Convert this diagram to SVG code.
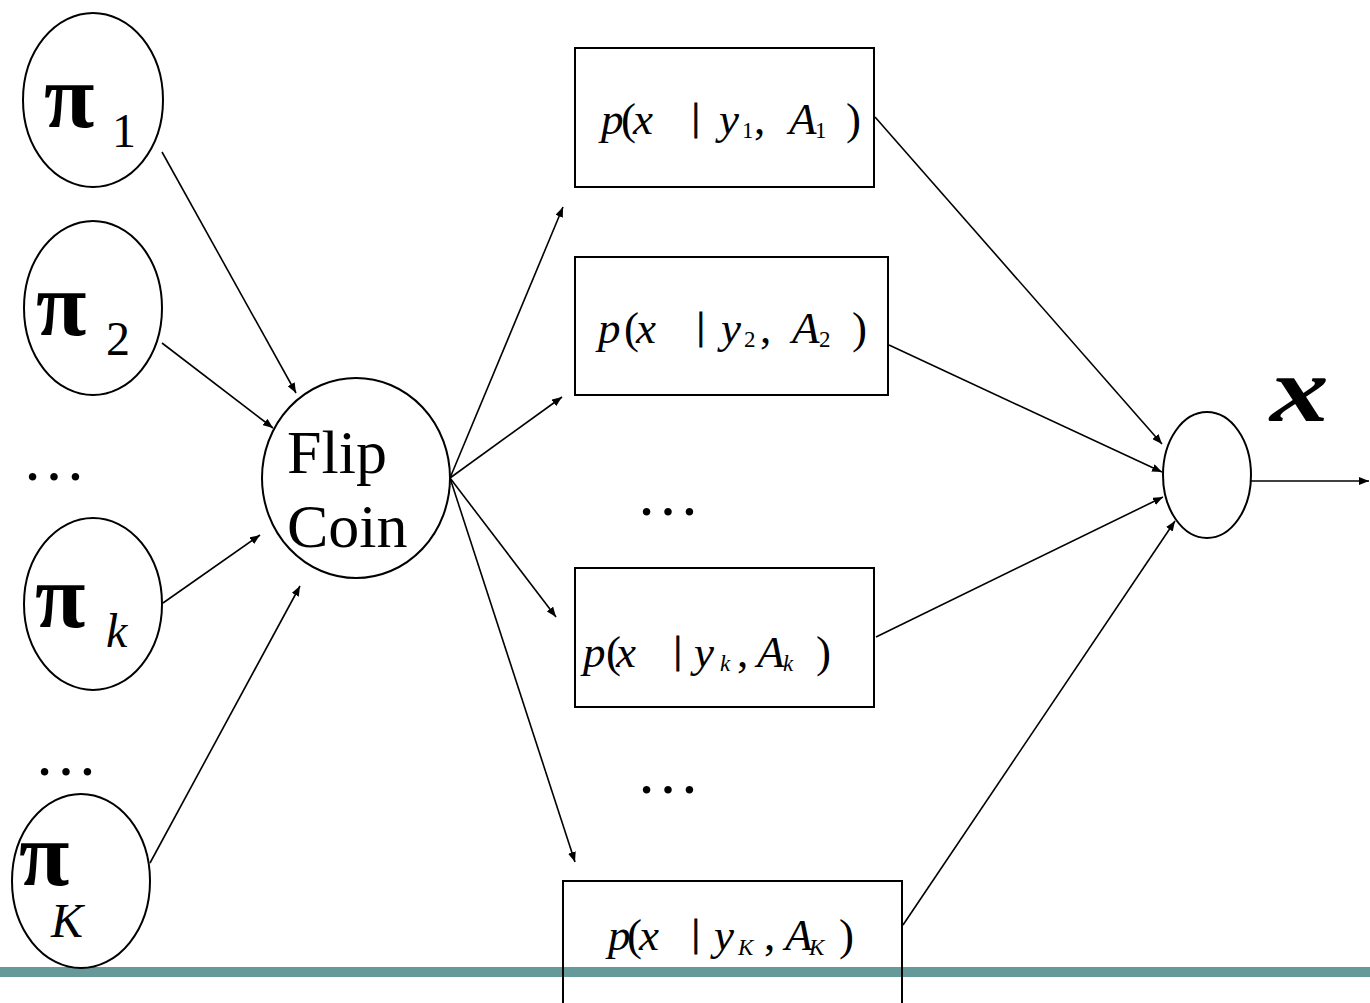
<svg xmlns="http://www.w3.org/2000/svg" width="1370" height="1003" viewBox="0 0 1370 1003">
<defs>
<marker id="ah" viewBox="0 0 10 8" refX="10" refY="4" markerWidth="10" markerHeight="8" markerUnits="userSpaceOnUse" orient="auto">
<path d="M0,0 L10,4 L0,8 z" fill="#000"/>
</marker>
<style>
.n{fill:#fff;stroke:#000;stroke-width:2}
.b{fill:none;stroke:#000;stroke-width:2}
.c{stroke:#000;stroke-width:1.6;fill:none;marker-end:url(#ah)}
text{font-family:"Liberation Serif","Times New Roman","DejaVu Serif",serif}
.pi{font-weight:bold;font-size:92px}
.sub{font-size:48px}
.it{font-style:italic}
.eq{font-style:italic;font-size:45px}
.s{font-size:23px}
.up{font-style:normal}
.bar{font-style:normal;font-size:38px;stroke:#000;stroke-width:1}
.t{font-size:62px}
.dots{font-size:64px}
</style>
</defs>
<rect width="1370" height="1003" fill="#fff"/>
<rect x="0" y="967" width="1370" height="10" fill="#669999"/>
<g id="connectors">
<line class="c" x1="162" y1="152" x2="296" y2="393"/>
<line class="c" x1="162" y1="343" x2="273" y2="428"/>
<line class="c" x1="163" y1="603" x2="260" y2="535"/>
<line class="c" x1="150" y1="863" x2="300" y2="586"/>
<line class="c" x1="450" y1="478" x2="563" y2="207"/>
<line class="c" x1="450" y1="478" x2="562" y2="397"/>
<line class="c" x1="450" y1="478" x2="556" y2="617"/>
<line class="c" x1="450" y1="478" x2="575" y2="862"/>
<line class="c" x1="875" y1="117" x2="1162" y2="444"/>
<line class="c" x1="889" y1="345" x2="1162" y2="472"/>
<line class="c" x1="876" y1="637" x2="1163" y2="497"/>
<line class="c" x1="903" y1="925" x2="1175" y2="521"/>
<line class="c" x1="1251" y1="481" x2="1369" y2="481"/>
</g>
<g id="pi1">
<ellipse class="n" cx="93" cy="100" rx="70" ry="87"/>
<text class="pi" x="44" y="127">π</text>
<text class="sub" x="112" y="147">1</text>
</g>
<g id="pi2">
<ellipse class="n" cx="93" cy="308" rx="69" ry="87"/>
<text class="pi" x="36" y="335">π</text>
<text class="sub" x="106" y="355">2</text>
</g>
<text class="dots" x="22" y="480">…</text>
<g id="pik">
<ellipse class="n" cx="93" cy="604" rx="69" ry="86"/>
<text class="pi" x="35" y="627">π</text>
<text class="sub it" x="106" y="647">k</text>
</g>
<text class="dots" x="34" y="775">…</text>
<g id="piK">
<ellipse class="n" cx="81" cy="881" rx="69" ry="87"/>
<text class="pi" x="19" y="885">π</text>
<text class="sub it" x="51" y="937">K</text>
</g>
<g id="flip">
<ellipse class="n" cx="356" cy="478" rx="94" ry="100"/>
<text class="t" x="287" y="473">Flip</text>
<text class="t" x="287" y="547">Coin</text>
</g>
<g id="box1">
<rect class="b" x="575" y="48" width="299" height="139"/>
<text class="eq" y="134"><tspan x="601">p</tspan><tspan class="up" x="621">(</tspan><tspan x="633">x</tspan><tspan class="bar" x="692" y="130">|</tspan><tspan x="719" y="134">y</tspan><tspan class="s up" x="742" y="138">1</tspan><tspan class="up" x="754" y="134">,</tspan><tspan x="789">A</tspan><tspan class="s up" x="815" y="138">1</tspan><tspan class="up" x="846" y="134">)</tspan></text>
</g>
<g id="box2">
<rect class="b" x="575" y="257" width="313" height="138"/>
<text class="eq" y="343"><tspan x="598">p</tspan><tspan class="up" x="624">(</tspan><tspan x="636">x</tspan><tspan class="bar" x="697" y="339">|</tspan><tspan x="721" y="343">y</tspan><tspan class="s up" x="744" y="347">2</tspan><tspan class="up" x="760" y="343">,</tspan><tspan x="792">A</tspan><tspan class="s up" x="819" y="347">2</tspan><tspan class="up" x="852" y="343">)</tspan></text>
</g>
<text class="dots" x="636" y="515">…</text>
<g id="boxk">
<rect class="b" x="575" y="568" width="299" height="139"/>
<text class="eq" y="667"><tspan x="583">p</tspan><tspan class="up" x="606">(</tspan><tspan x="616">x</tspan><tspan class="bar" x="674" y="663">|</tspan><tspan x="694" y="667">y</tspan><tspan class="s" x="720" y="671">k</tspan><tspan class="up" x="737" y="667">,</tspan><tspan x="757">A</tspan><tspan class="s" x="783" y="671">k</tspan><tspan class="up" x="816" y="667">)</tspan></text>
</g>
<text class="dots" x="636" y="793">…</text>
<g id="boxK">
<rect class="b" x="563" y="881" width="339" height="140"/>
<text class="eq" y="950"><tspan x="608">p</tspan><tspan class="up" x="627">(</tspan><tspan x="639">x</tspan><tspan class="bar" x="692" y="946">|</tspan><tspan x="714" y="950">y</tspan><tspan class="s" x="738" y="955">K</tspan><tspan class="up" x="764" y="950">,</tspan><tspan x="785">A</tspan><tspan class="s" x="809" y="955">K</tspan><tspan class="up" x="839" y="950">)</tspan></text>
</g>
<g id="sum">
<ellipse class="n" cx="1207" cy="475" rx="44" ry="63"/>
</g>
<text transform="translate(1270,421) scale(1.25,1)" x="0" y="0" font-style="italic" font-weight="bold" font-size="94">x</text>
</svg>
